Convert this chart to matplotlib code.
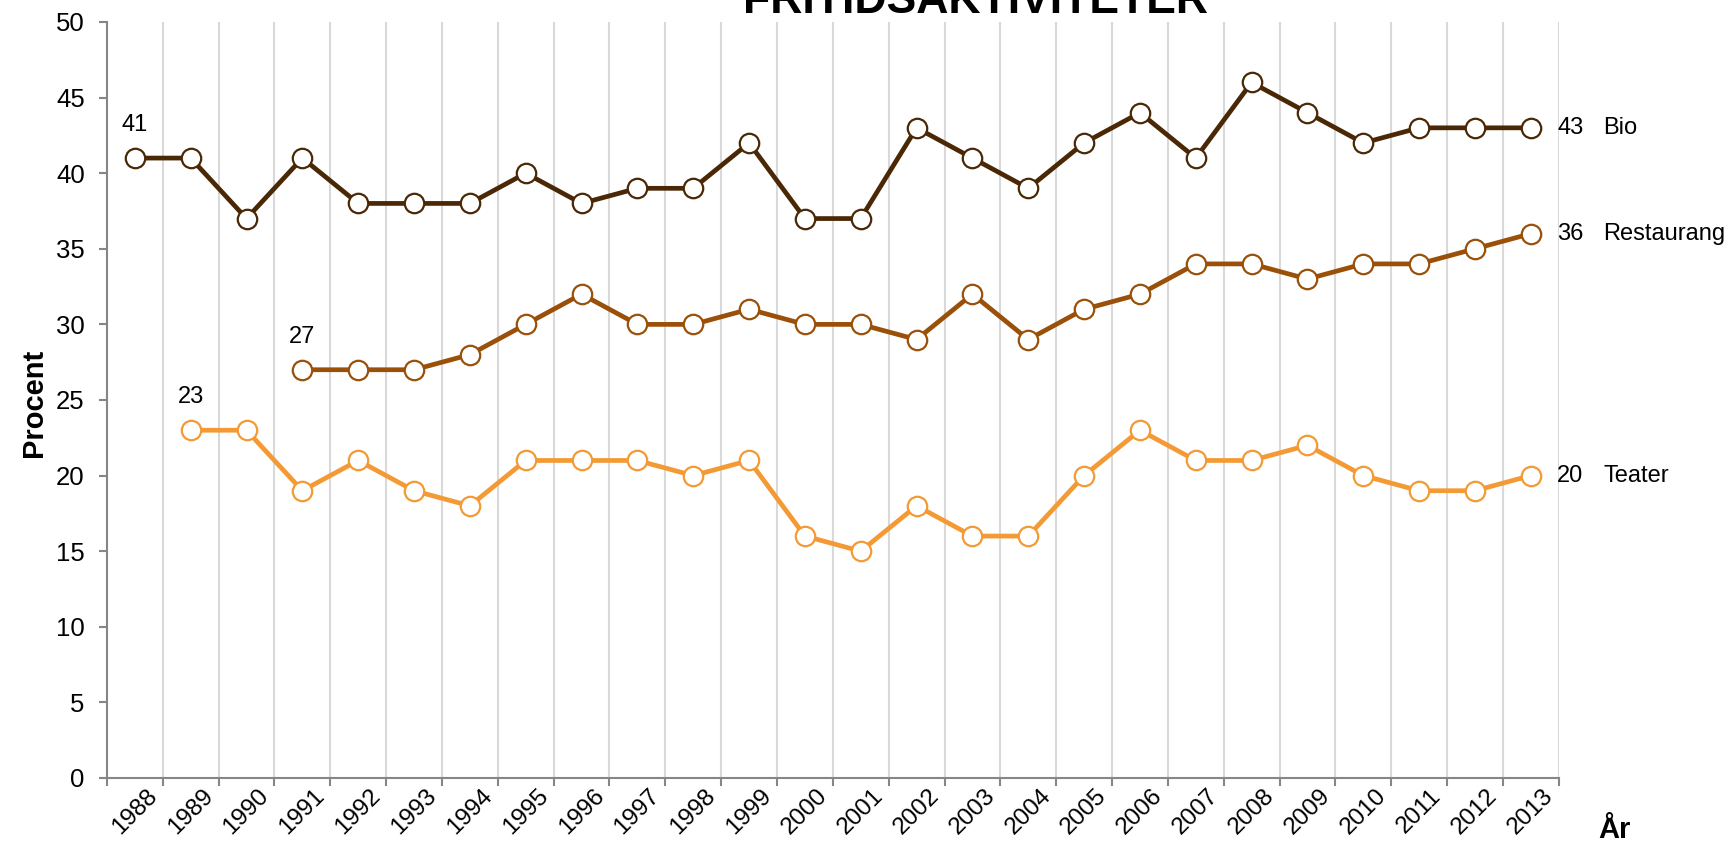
import numpy as np
import matplotlib
matplotlib.use("Agg")
import matplotlib.pyplot as plt

plt.rcParams['font.family'] = ['Liberation Sans', 'DejaVu Sans']

years = list(range(1988, 2014))
bio = [41, 41, 37, 41, 38, 38, 38, 40, 38, 39, 39, 42, 37, 37, 43, 41, 39, 42, 44, 41, 46, 44, 42, 43, 43, 43]
restaurang_start = 1991
restaurang = [27, 27, 27, 28, 30, 32, 30, 30, 31, 30, 30, 29, 32, 29, 31, 32, 34, 34, 33, 34, 34, 35, 36]
teater_start = 1989
teater = [23, 23, 19, 21, 19, 18, 21, 21, 21, 20, 21, 16, 15, 18, 16, 16, 20, 23, 21, 21, 22, 20, 19, 19, 20]

series = [
    ("Bio", 1988, bio, "#4a2806"),
    ("Restaurang", restaurang_start, restaurang, "#9a5008"),
    ("Teater", teater_start, teater, "#f49a35"),
]

fig = plt.figure(figsize=(17.3, 8.46), dpi=100)
ax = fig.add_axes([0.0618, 0.0804, 0.8392, 0.8936])

for name, start, vals, col in series:
    x = np.arange(len(vals)) + (start - years[0])
    ax.plot(x, vals, color=col, lw=3.4, marker='o', ms=14, mfc='white',
            mec=col, mew=1.6, zorder=3)
    # first value above first point
    ax.annotate(str(vals[0]), (x[0], vals[0]), xytext=(0, 16),
                textcoords='offset points', ha='center', va='bottom', fontsize=17)
    # last value + name to the right
    ax.annotate(str(vals[-1]), (x[-1], vals[-1]), xytext=(19, 0),
                textcoords='offset points', ha='left', va='center', fontsize=17,
                annotation_clip=False)
    ax.annotate(name, (x[-1], vals[-1]), xytext=(52, 0),
                textcoords='offset points', ha='left', va='center', fontsize=17,
                annotation_clip=False)

n = len(years)
ax.set_xlim(-0.5, n - 0.5)
ax.set_ylim(0, 50)
ax.set_yticks(range(0, 51, 5))

# category boundaries carry ticks and grid, labels sit at centres
ax.set_xticks(np.arange(-0.5, n, 1.0))
ax.set_xticklabels([])
ax.set_xticks(np.arange(n), minor=True)
ax.set_xticklabels([str(y) for y in years], minor=True, rotation=45,
                   ha='center', va='top', fontsize=17.5)
ax.tick_params(axis='x', which='minor', length=0, pad=5)
ax.tick_params(axis='x', which='major', length=6, color='#868686', width=1.5)
ax.tick_params(axis='y', length=6, color='#868686', width=1.5, labelsize=18.5, pad=10)
ax.xaxis.grid(True, which='major', color='#d9d9d9', lw=1.5, zorder=0)
ax.set_axisbelow(True)

for s in ['top', 'right']:
    ax.spines[s].set_visible(False)
for s in ['left', 'bottom']:
    ax.spines[s].set_color('#868686')
    ax.spines[s].set_linewidth(1.5)

fig.text(34 / 1730, 1 - 403 / 846, 'Procent', fontsize=21, fontweight='bold',
         rotation=90, ha='center', va='center')
fig.text(1598 / 1730, 1 - 838 / 846, 'År', fontsize=21, fontweight='bold',
         ha='left', va='baseline')
fig.text(975 / 1730, 1 - 13 / 846, 'FRITIDSAKTIVITETER', fontsize=32,
         fontweight='bold', ha='center', va='baseline')

fig.savefig('out.png', dpi=100)
